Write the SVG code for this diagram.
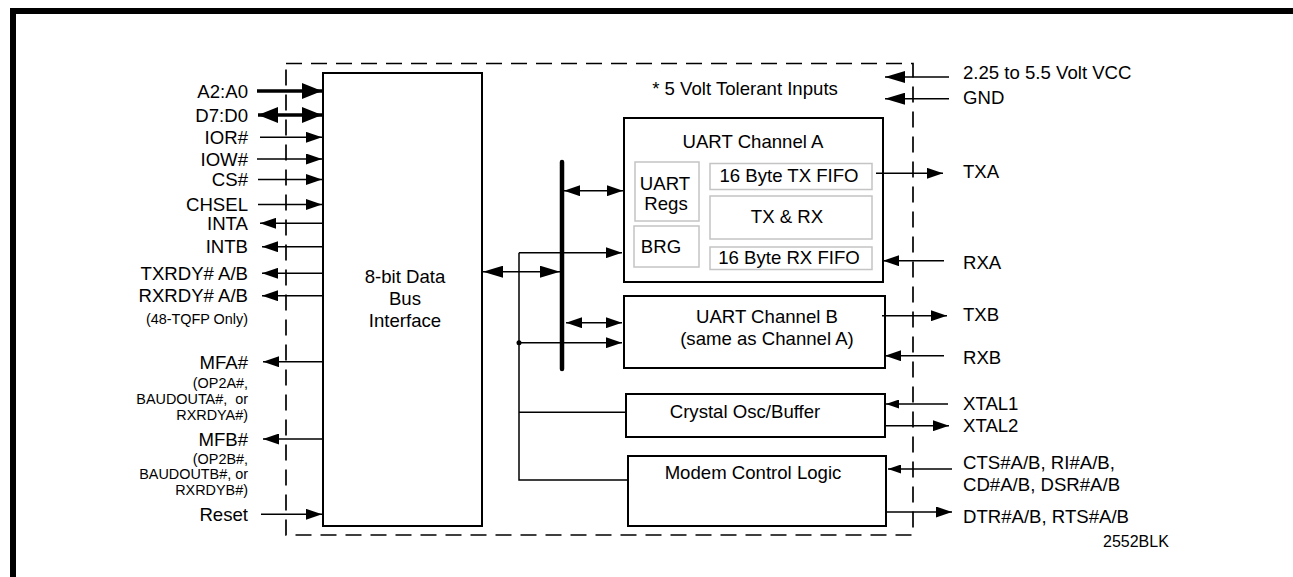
<svg xmlns="http://www.w3.org/2000/svg" width="1293" height="577" viewBox="0 0 1293 577">
<style>
text{font-family:"Liberation Sans",Arial,Helvetica,sans-serif;font-size:18.6px;fill:#000}
.s{font-size:14.4px}
.k{font-size:16px}
.box{fill:#fff;stroke:#000;stroke-width:2}
.inner{fill:#fff;stroke:#c4c4c4;stroke-width:1.5}
.ln{fill:none;stroke:#000;stroke-width:1.5}
.thick{fill:none;stroke:#000;stroke-width:3.4}
.dash{fill:none;stroke:#000;stroke-width:1.7;stroke-dasharray:16 9}
.e{text-anchor:end}
.m{text-anchor:middle}
</style>
<defs>
<marker id="ah" markerUnits="userSpaceOnUse" viewBox="0 0 16 11" markerWidth="16" markerHeight="11" refX="16" refY="5.5" orient="auto-start-reverse"><path d="M0,0 L16,5.5 L0,11 z" fill="#000"/></marker>
<marker id="ahL" markerUnits="userSpaceOnUse" viewBox="0 0 20 12" markerWidth="20" markerHeight="12" refX="20" refY="6" orient="auto-start-reverse"><path d="M0,0 L20,6 L0,12 z" fill="#000"/></marker>
<marker id="ahT" markerUnits="userSpaceOnUse" viewBox="0 0 20 16" markerWidth="20" markerHeight="16" refX="20" refY="8" orient="auto-start-reverse"><path d="M0,0 L20,8 L0,16 z" fill="#000"/></marker>
<marker id="ahS" markerUnits="userSpaceOnUse" viewBox="0 0 13 9" markerWidth="13" markerHeight="9" refX="13" refY="4.5" orient="auto-start-reverse"><path d="M0,0 L13,4.5 L0,9 z" fill="#000"/></marker>
</defs>
<rect width="1293" height="577" fill="#fff"/>
<g id="frame">
<rect x="10" y="8" width="1283" height="6" fill="#000"/>
<rect x="10" y="8" width="6" height="569" fill="#000"/>
</g>
<g id="chip-boundary">
<rect class="dash" x="286" y="63.5" width="627" height="471.5"/>
<text class="m" x="745" y="95">* 5 Volt Tolerant Inputs</text>
</g>
<g id="bus-interface">
<rect class="box" x="323" y="73" width="159" height="453"/>
<text class="m" x="405" y="283">8-bit Data</text>
<text class="m" x="405" y="305">Bus</text>
<text class="m" x="405" y="327">Interface</text>
</g>
<g id="uart-a">
<rect class="box" x="624" y="118" width="259" height="164"/>
<text class="m" x="753" y="148">UART Channel A</text>
<g id="uart-regs"><rect class="inner" x="635" y="162" width="64" height="59"/><text class="m" x="665" y="190">UART</text><text class="m" x="666" y="210">Regs</text></g>
<g id="brg"><rect class="inner" x="634" y="226" width="65" height="41"/><text class="m" x="661" y="253">BRG</text></g>
<g id="tx-fifo"><rect class="inner" x="710" y="163.5" width="162" height="26"/><text class="m" x="789" y="182">16 Byte TX FIFO</text></g>
<g id="txrx"><rect class="inner" x="710" y="196" width="162" height="43"/><text class="m" x="787" y="223">TX &amp; RX</text></g>
<g id="rx-fifo"><rect class="inner" x="710" y="247" width="162" height="22.5"/><text class="m" x="789" y="264">16 Byte RX FIFO</text></g>
</g>
<g id="uart-b">
<rect class="box" x="624" y="296" width="261" height="72"/>
<text class="m" x="767" y="323">UART Channel B</text>
<text class="m" x="767" y="345">(same as Channel A)</text>
</g>
<g id="crystal">
<rect class="box" x="626" y="394" width="259" height="43"/>
<text class="m" x="745" y="418">Crystal Osc/Buffer</text>
</g>
<g id="modem">
<rect class="box" x="628" y="456" width="258" height="70"/>
<text class="m" x="753" y="479">Modem Control Logic</text>
</g>
<g id="connectors">
<path class="thick" d="M257,91 H322" marker-end="url(#ahT)"/>
<path class="thick" d="M258,115 H322" marker-start="url(#ahT)" marker-end="url(#ahT)"/>
<path class="ln" d="M260,137.3 H322" marker-end="url(#ah)"/>
<path class="ln" d="M257,159 H322" marker-end="url(#ah)"/>
<path class="ln" d="M258,179.5 H322" marker-end="url(#ah)"/>
<path class="ln" d="M258,204.5 H322" marker-end="url(#ah)"/>
<path class="ln" d="M323,223.3 H260" marker-end="url(#ah)"/>
<path class="ln" d="M323,246.7 H262" marker-end="url(#ah)"/>
<path class="ln" d="M323,273.3 H262" marker-end="url(#ah)"/>
<path class="ln" d="M323,295.7 H262" marker-end="url(#ah)"/>
<path class="ln" d="M323,361.7 H263" marker-end="url(#ah)"/>
<path class="ln" d="M323,439 H263" marker-end="url(#ah)"/>
<path class="ln" d="M261,514.3 H322" marker-end="url(#ah)"/>
<line x1="562" y1="162" x2="562" y2="369" stroke="#000" stroke-width="4.5" stroke-linecap="round"/>
<path class="ln" stroke-width="2" d="M483,271.7 H560" marker-start="url(#ahL)" marker-end="url(#ahL)"/>
<path class="ln" stroke-width="2" d="M564,190.7 H623" marker-start="url(#ah)" marker-end="url(#ah)"/>
<path class="ln" stroke-width="2" d="M566,322.7 H622" marker-start="url(#ah)" marker-end="url(#ah)"/>
<path class="ln" d="M519,252.7 H622" marker-end="url(#ah)"/>
<path class="ln" d="M519,252.7 V480 H628"/>
<path class="ln" d="M519,342.7 H622" marker-end="url(#ah)"/>
<circle cx="519" cy="342.7" r="2.5" fill="#000"/>
<path class="ln" d="M519,412.3 H626"/>
<path class="ln" d="M949,77 H885" marker-end="url(#ahL)"/>
<path class="ln" d="M949,98.7 H885" marker-end="url(#ahL)"/>
<path class="ln" stroke-width="2" d="M876,173.3 H943" marker-end="url(#ah)"/>
<path class="ln" stroke-width="2" d="M944,260.7 H883" marker-end="url(#ah)"/>
<path class="ln" stroke-width="2" d="M882,315.7 H947" marker-end="url(#ah)"/>
<path class="ln" stroke-width="2" d="M944,355.7 H885" marker-end="url(#ah)"/>
<path class="ln" d="M948,404 H886" marker-end="url(#ahS)"/>
<path class="ln" d="M885,425.7 H949" marker-end="url(#ah)"/>
<path class="ln" d="M952,469 H888" marker-end="url(#ahS)"/>
<path class="ln" d="M886,512 H952" marker-end="url(#ah)"/>
</g>
<g id="left-labels">
<text class="e" x="248" y="97.5">A2:A0</text>
<text class="e" x="248" y="121.5">D7:D0</text>
<text class="e" x="248" y="144">IOR#</text>
<text class="e" x="248" y="165.5">IOW#</text>
<text class="e" x="248" y="186">CS#</text>
<text class="e" x="248" y="211">CHSEL</text>
<text class="e" x="248" y="230">INTA</text>
<text class="e" x="248" y="253">INTB</text>
<text class="e" x="248" y="280">TXRDY# A/B</text>
<text class="e" x="248" y="302">RXRDY# A/B</text>
<text class="e s" x="248" y="323.5">(48-TQFP Only)</text>
<text class="e" x="248" y="368.5">MFA#</text>
<text class="e s" x="248" y="388">(OP2A#,</text>
<text class="e s" x="248" y="404" xml:space="preserve">BAUDOUTA#,  or</text>
<text class="e s" x="248" y="420">RXRDYA#)</text>
<text class="e" x="248" y="445.5">MFB#</text>
<text class="e s" x="248" y="463.5">(OP2B#,</text>
<text class="e s" x="248" y="479">BAUDOUTB#, or</text>
<text class="e s" x="248" y="494.5">RXRDYB#)</text>
<text class="e" x="248" y="521">Reset</text>
</g>
<g id="right-labels">
<text x="963" y="79">2.25 to 5.5 Volt VCC</text>
<text x="963" y="104">GND</text>
<text x="963" y="178">TXA</text>
<text x="963" y="269">RXA</text>
<text x="963" y="321">TXB</text>
<text x="963" y="364">RXB</text>
<text x="963" y="410">XTAL1</text>
<text x="963" y="432">XTAL2</text>
<text x="963" y="469">CTS#A/B, RI#A/B,</text>
<text x="963" y="491">CD#A/B, DSR#A/B</text>
<text x="963" y="523">DTR#A/B, RTS#A/B</text>
<text class="k" x="1103" y="547">2552BLK</text>
</g>
</svg>
